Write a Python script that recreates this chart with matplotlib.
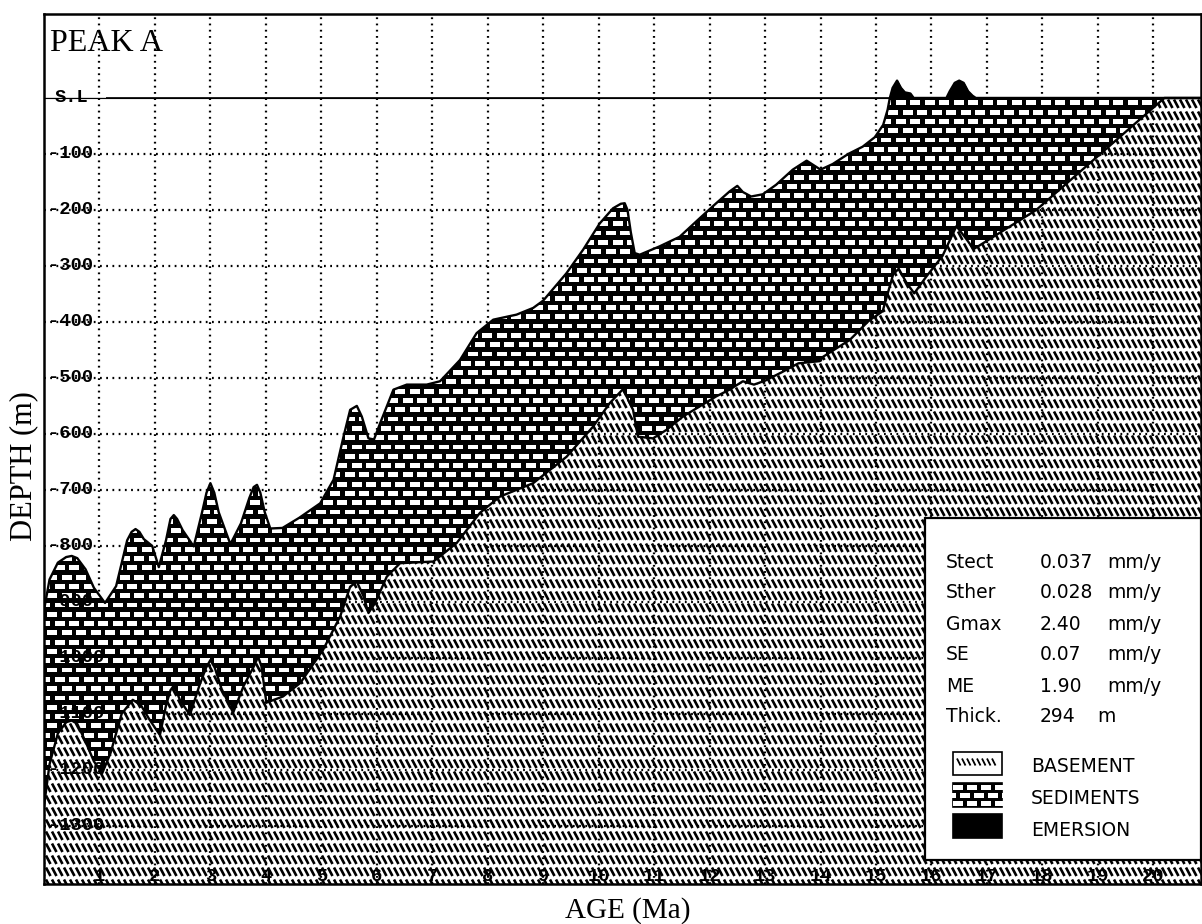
import numpy as np
import matplotlib
matplotlib.use("Agg")
import matplotlib.pyplot as plt
from matplotlib.collections import LineCollection, PolyCollection
from matplotlib.patches import Rectangle
from matplotlib.transforms import IdentityTransform

# ---------------- data ----------------
top_age = [0.0, 0.1, 0.25, 0.4, 0.5, 0.6, 0.75, 0.9, 1.1, 1.3, 1.5, 1.58, 1.65, 1.72, 1.8,
           1.95, 2.07, 2.2, 2.28, 2.34, 2.4, 2.5, 2.7, 2.85, 2.93, 3.0, 3.07, 3.15, 3.36,
           3.55, 3.7, 3.78, 3.84, 3.9, 3.98, 4.08, 4.3, 4.6, 4.98, 5.22, 5.40, 5.52, 5.64,
           5.73, 5.85, 5.95, 6.06, 6.30, 6.54, 6.90, 7.14, 7.50, 7.80, 8.10, 8.52, 8.82,
           9.00, 9.42, 9.72, 10.02, 10.26, 10.40, 10.47, 10.52, 10.58, 10.65, 10.74, 11.1,
           11.46, 11.82, 12.12, 12.36, 12.50, 12.6, 12.75, 12.96, 13.2, 13.5, 13.75, 14.0,
           14.22, 14.5, 14.76, 14.98, 15.13, 15.21, 15.25, 15.3, 15.38, 15.45, 15.52, 15.62,
           15.68, 16.27, 16.33, 16.42, 16.5, 16.58, 16.66, 16.74, 16.8, 20.9]
top_depth = [-915, -860, -830, -820, -818, -822, -842, -875, -902, -872, -790, -775, -770,
             -775, -788, -800, -838, -790, -752, -745, -752, -772, -801, -740, -705, -688,
             -705, -740, -797, -760, -715, -695, -691, -705, -740, -769, -768, -750, -724,
             -682, -605, -557, -550, -569, -608, -610, -581, -521, -512, -512, -506, -468,
             -420, -396, -387, -375, -362, -313, -271, -224, -197, -189, -188, -200, -240,
             -277, -280, -265, -248, -215, -188, -167, -157, -168, -176, -172, -155, -128,
             -112, -128, -118, -100, -87, -70, -48, -21, 0, 18, 31, 18, 10, 8, 0, 0, 12, 27,
             31, 27, 12, 4, 0, 0]

base_age = [0.0, 0.1, 0.25, 0.4, 0.5, 0.6, 0.75, 0.9, 1.05, 1.2, 1.4, 1.6, 1.75, 1.9, 2.09,
            2.2, 2.28, 2.33, 2.38, 2.45, 2.63, 2.8, 2.92, 3.0, 3.08, 3.2, 3.41, 3.6, 3.8,
            3.86, 3.92, 4.01, 4.31, 4.62, 5.03, 5.34, 5.52, 5.64, 5.76, 5.85, 5.97, 6.18,
            6.42, 7.02, 7.44, 7.86, 8.22, 8.82, 9.42, 9.9, 10.2, 10.44, 10.62, 10.71, 10.98,
            11.22, 11.52, 11.82, 12.12, 12.36, 12.6, 12.8, 13.0, 13.3, 13.6, 13.99, 14.05,
            14.53, 14.87, 15.12, 15.31, 15.41, 15.55, 15.69, 15.9, 16.2, 16.45, 16.6, 16.76,
            17.89, 20.2, 20.9]
base_depth = [-1265, -1190, -1135, -1115, -1112, -1118, -1150, -1185, -1206, -1170, -1100,
              -1075, -1085, -1110, -1138, -1085, -1058, -1051, -1058, -1075, -1102, -1050,
              -1018, -1004, -1018, -1055, -1098, -1050, -1012, -998, -1015, -1080, -1069,
              -1045, -986, -926, -873, -864, -890, -920, -902, -855, -831, -828, -795, -741,
              -712, -688, -641, -587, -545, -520, -557, -605, -608, -593, -569, -551, -533,
              -521, -506, -512, -505, -490, -474, -470, -462, -432, -398, -381, -315, -305,
              -330, -349, -320, -282, -229, -248, -270, -200, 0, 0]

age_ticks = list(range(1, 21))
depth_ticks = [-100, -200, -300, -400, -500, -600, -700, -800, -900, -1000, -1100, -1200, -1300]
depth_labels = ["-100", "-200", "-300", "-400", "-500", "-600", "-700", "-800", "-900",
                "-1000", "-1100", "-1200", "-1300"]
param_names = ["Stect", "Sther", "Gmax", "SE", "ME", "Thick."]
param_values = ["0.037", "0.028", "2.40", "0.07", "1.90", "294"]
param_units = ["mm/y", "mm/y", "mm/y", "mm/y", "mm/y", "m"]
legend_labels = ["BASEMENT", "SEDIMENTS", "EMERSION"]

# ---------------- figure ----------------
W, H = 1202, 924
fig = plt.figure(figsize=(W / 100, H / 100), dpi=100)
ax = fig.add_axes([44 / W, 1 - 884 / H, (1201 - 44) / W, (884 - 14) / H])
XMIN, XMAX = 0.0, 20.86
YMIN, YMAX = -1404, 150
ident = IdentityTransform()

top_age = np.array(top_age, float)
top_depth = np.array(top_depth, float)
base_age = np.array(base_age, float)
base_depth = np.array(base_depth, float)


def bricks(x0, x1, y0, y1, row_h=9.3, period=14.5, bw=10.0, bh=4.8):
    """white brick rectangles in image-pixel space (top origin)"""
    rects = []
    r = 0
    Y = y0
    while Y < y1:
        off = (r % 2) * period / 2
        X = x0 - period + off
        while X < x1 + period:
            yt = H - (Y + 2.4)
            rects.append([(X, yt), (X + bw, yt), (X + bw, yt - bh), (X, yt - bh)])
            X += period
        Y += row_h
        r += 1
    return PolyCollection(rects, facecolors="white", edgecolors="none", transform=ident)


def strokes(x0, x1, y0, y1, row_h=12.0, dx=6.0, sh=8.5, sw=4.5, lw=1.9, pad=True):
    segs = []
    Y = y0
    while Y < y1:
        X = x0 - dx if pad else x0
        xe = x1 + dx if pad else x1 - sw
        while X <= xe:
            segs.append([(X, H - (Y + 1.5)), (X + sw, H - (Y + 1.5 + sh))])
            X += dx
        Y += row_h
    return LineCollection(segs, colors="black", linewidths=lw, transform=ident,
                          capstyle="butt")


# basement region
bx = np.concatenate([base_age, [XMAX, XMIN]])
by = np.concatenate([base_depth, [YMIN, YMIN]])
bpoly = ax.fill(bx, by, facecolor="white", edgecolor="none", zorder=1.0)[0]
bs = strokes(40, 1205, 98, 890)
bs.set_zorder(1.1)
bs.set_clip_path(bpoly)
ax.add_collection(bs, autolim=False)

# sediment region
sx = np.concatenate([top_age, base_age[::-1]])
sy = np.concatenate([np.minimum(top_depth, 0), base_depth[::-1]])
spoly = ax.fill(sx, sy, facecolor="black", edgecolor="none", zorder=2.0)[0]
sb = bricks(40, 1205, 98, 890)
sb.set_zorder(2.1)
sb.set_clip_path(spoly)
ax.add_collection(sb, autolim=False)

# emersion
ax.fill_between(top_age, 0, np.maximum(top_depth, 0), facecolor="black", edgecolor="black",
                linewidth=0.8, zorder=2.3)

# outlines
ax.plot(top_age, top_depth, color="black", lw=1.7, zorder=2.4)
ax.plot(base_age, base_depth, color="black", lw=1.7, zorder=2.4)

# sea level line
SL_START = 1.12
ax.hlines(0, SL_START, XMAX, color="black", lw=1.2, zorder=2.5)

# axes, grid
ax.set_xlim(XMIN, XMAX)
ax.set_ylim(YMIN, YMAX)
ax.set_xticks(age_ticks)
ax.set_yticks(depth_ticks)
ax.tick_params(length=0, labelleft=False, labelbottom=False)
ax.set_axisbelow("line")
ax.grid(True, color="black", linestyle=(0, (0.8, 2.0)), linewidth=1.6)
for sp in ax.spines.values():
    sp.set_linewidth(1.8)
    sp.set_zorder(6)

tick_font = dict(family="Liberation Mono", weight="bold", fontsize=13.5, color="black")
LABEL_X = 0.075
for d, lab in zip(depth_ticks, depth_labels):
    ax.text(LABEL_X, d, lab, ha="left", va="center", zorder=3, **tick_font)
ax.text(0.2, 0, "S.L", ha="left", va="center", zorder=3, **tick_font)
XLAB_Y = -1391
for a in age_ticks:
    ax.text(a, XLAB_Y, str(a), ha="center", va="center", zorder=3, **tick_font)

ax.text(0.11, 97, "PEAK A", ha="left", va="center", family="Liberation Serif",
        fontsize=23, zorder=3)
fig.text(628 / W, 1 - 911 / H, "AGE (Ma)", ha="center", va="center",
         family="Liberation Serif", fontsize=21)
fig.text(24 / W, 1 - 466 / H, "DEPTH (m)", ha="center", va="center", rotation=90,
         family="Liberation Serif", fontsize=22)

# ---------------- info / legend box ----------------
box = Rectangle((925, H - 860), 1201 - 925, 860 - 518, facecolor="white", edgecolor="black",
                linewidth=1.6, transform=ident, zorder=4, clip_on=False)
ax.add_patch(box)
box_font = dict(family="DejaVu Sans", fontsize=13.5, color="black")
row_y = 562
for name, val, unit in zip(param_names, param_values, param_units):
    ax.text(946, H - row_y, name, ha="left", va="center", transform=ident, zorder=5,
            **box_font)
    ax.text(1040, H - row_y, val, ha="left", va="center", transform=ident, zorder=5,
            **box_font)
    ux = 1107 if unit != "m" else 1097
    ax.text(ux, H - row_y, unit, ha="left", va="center", transform=ident, zorder=5,
            **box_font)
    row_y += 31

label_ys = [767, 798, 830]
# basement swatch
r1 = Rectangle((953, H - 775), 49, 23, facecolor="white", edgecolor="black", linewidth=1.2,
               transform=ident, zorder=5)
ax.add_patch(r1)
ls = strokes(957, 999, 757, 770, row_h=20, dx=5.0, sh=7, sw=3.5, lw=1.3, pad=False)
ls.set_zorder(5.1)
ax.add_artist(ls)
# sediment swatch
r2 = Rectangle((953, H - 807), 49, 24, facecolor="black", edgecolor="black", linewidth=1.2,
               transform=ident, zorder=5)
ax.add_patch(r2)
lb = bricks(953, 1002, 783, 807, row_h=8.0, period=14.0, bw=10.0, bh=4.2)
lb.set_zorder(5.1)
lb.set_clip_path(r2)
ax.add_artist(lb)
# emersion swatch
r3 = Rectangle((953, H - 838), 49, 24, facecolor="black", edgecolor="black", linewidth=1.2,
               transform=ident, zorder=5)
ax.add_patch(r3)
for lab, ly in zip(legend_labels, label_ys):
    ax.text(1031, H - ly, lab, ha="left", va="center", transform=ident, zorder=5, **box_font)

fig.savefig("out.png", dpi=100)
